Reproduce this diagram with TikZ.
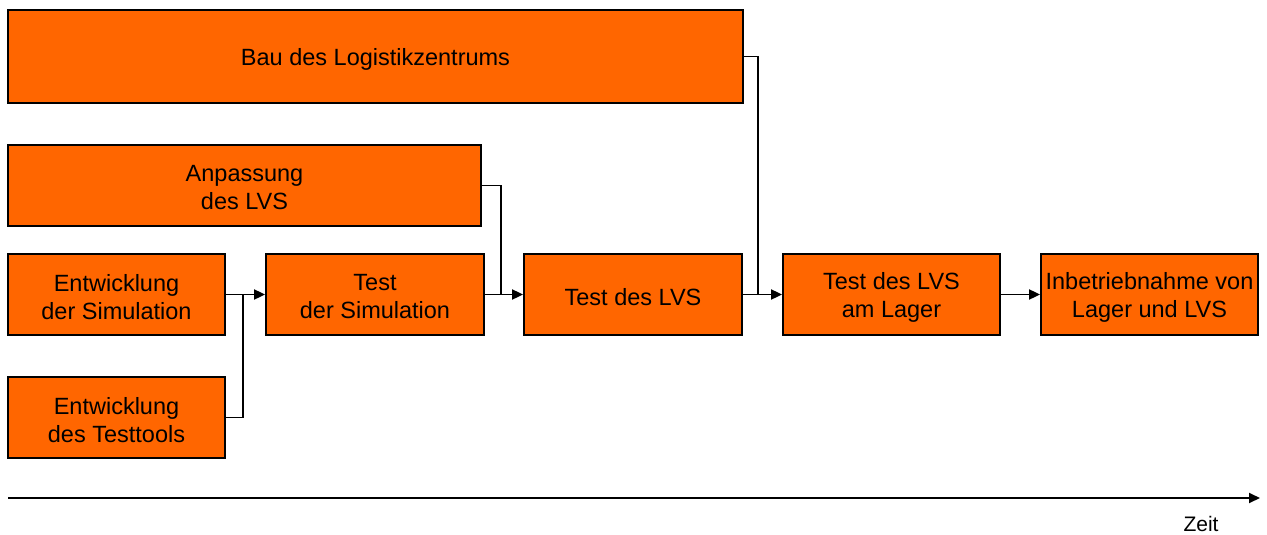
\documentclass[tikz,border=0pt]{standalone}
\usepackage{fontspec}
\setmainfont{Liberation Sans}
\usetikzlibrary{arrows.meta}
\definecolor{boxorange}{HTML}{FF6600}
\begin{document}
\begin{tikzpicture}[x=1pt,y=-1pt,
  task/.style={draw=black,line width=1.8pt,fill=boxorange,inner sep=0pt,
    label={[align=center,font=\fontsize{23.5}{28}\selectfont,yshift=-2.5pt]center:#1}},
  link/.style={draw=black,line width=1.8pt},
  arr/.style={link,-{Triangle[length=11pt,width=10pt]}}]
\useasboundingbox (0,0) rectangle (1267,535);
% tasks, sized in points
\node[task={Bau des Logistikzentrums},minimum width=735pt,minimum height=93pt] (bau) at (375.5,56.5) {};
\node[task={Anpassung\\des LVS},minimum width=473pt,minimum height=81pt] (anp) at (244.5,185.5) {};
\node[task={Entwicklung\\der Simulation},minimum width=217pt,minimum height=81pt] (esim) at (116.5,294.5) {};
\node[task={Entwicklung\\des Testtools},minimum width=217pt,minimum height=81pt] (etool) at (116.5,417.5) {};
\node[task={Test\\der Simulation},minimum width=218pt,minimum height=81pt] (tsim) at (375,294.5) {};
\node[task={Test des LVS},minimum width=218pt,minimum height=81pt] (tlvs) at (633,294.5) {};
\node[task={Test des LVS\\am Lager},minimum width=217pt,minimum height=81pt] (tlag) at (891.5,294.5) {};
\node[task={Inbetriebnahme von\\Lager und LVS},minimum width=217pt,minimum height=81pt] (inb) at (1149.5,294.5) {};
% junction points
\coordinate (j1) at (243,294.5);
\coordinate (j2) at (501,294.5);
\coordinate (j3) at (758,294.5);
% connectors
\draw[link] (esim.east) -- (j1);
\draw[link] (etool.east) -| (j1);
\draw[arr] (j1) -- (tsim.west);
\draw[link] (tsim.east) -- (j2);
\draw[link] (anp.east) -| (j2);
\draw[arr] (j2) -- (tlvs.west);
\draw[link] (tlvs.east) -- (j3);
\draw[link] (bau.east) -| (j3);
\draw[arr] (j3) -- (tlag.west);
\draw[arr] (tlag.east) -- (inb.west);
% time axis
\coordinate (t0) at (8,498);
\coordinate (t1) at (1260,498);
\draw[arr] (t0) -- (t1);
\node[font=\fontsize{21}{25}\selectfont] (zeit) at (1201,524) {Zeit};
\end{tikzpicture}
\end{document}
